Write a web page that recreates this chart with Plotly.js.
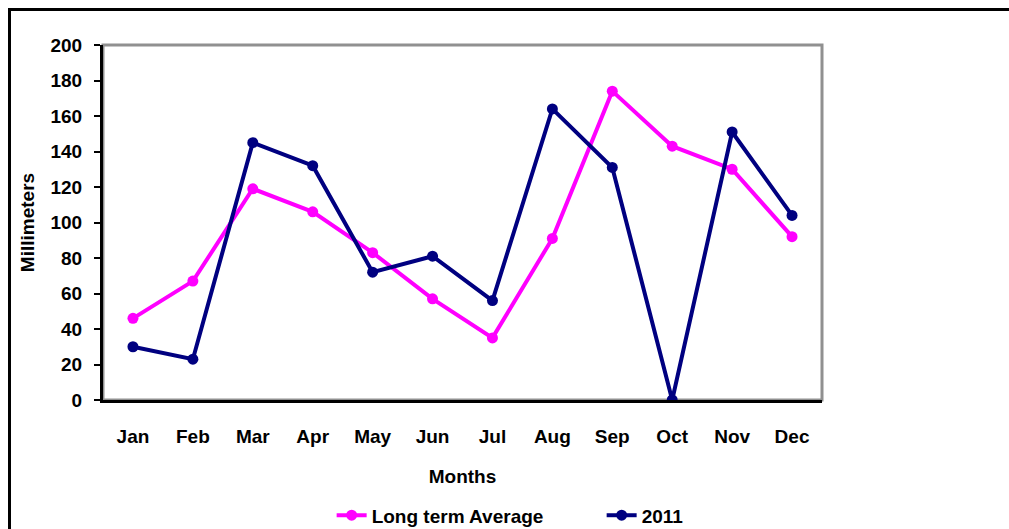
<!DOCTYPE html>
<html>
<head>
<meta charset="utf-8">
<script src="https://cdn.plot.ly/plotly-3.0.1.min.js"></script>
<style>
  html, body { margin: 0; padding: 0; background: #fff; }
  #wrap { position: relative; width: 1009px; height: 529px; overflow: hidden; }
  #frame { position: absolute; left: 8px; top: 8px; width: 1100px; height: 600px;
           border-top: 3px solid #000; border-left: 3px solid #000; pointer-events: none; z-index: 2; }
  #plot { position: absolute; left: 0; top: 0; width: 1009px; height: 529px; }
</style>
</head>
<body>
<div id="wrap">
  <div id="plot"></div>
  <div id="frame"></div>
</div>
<script>
const months = ['Jan', 'Feb', 'Mar', 'Apr', 'May', 'Jun', 'Jul', 'Aug', 'Sep', 'Oct', 'Nov', 'Dec'];
const longTermAverage = [46, 67, 119, 106, 83, 57, 35, 91, 174, 143, 130, 92];
const rain2011 = [30, 23, 145, 132, 72, 81, 56, 164, 131, 0, 151, 104];
const yTicks = [0, 20, 40, 60, 80, 100, 120, 140, 160, 180, 200];

const font = { family: 'Liberation Sans, Arial, sans-serif', size: 19, color: '#000', weight: 'bold' };

const traces = [
    {
        x: months, y: longTermAverage, name: 'Long term Average',
        mode: 'lines+markers', type: 'scatter',
        line: { color: '#ff00ff', width: 4 },
        marker: { color: '#ff00ff', size: 11 }
    },
    {
        x: months, y: rain2011, name: '2011',
        mode: 'lines+markers', type: 'scatter',
        line: { color: '#000080', width: 4 },
        marker: { color: '#000080', size: 11 }
    }
];

const layout = {
    width: 1009, height: 529,
    margin: { l: 103, r: 187, t: 45, b: 129, autoexpand: false },
    paper_bgcolor: 'rgba(0,0,0,0)', plot_bgcolor: '#fff',
    font: font,
    showlegend: true,
    legend: {
        orientation: 'h', x: 0.318, xanchor: 'left', y: -0.325, yanchor: 'middle',
        font: font, entrywidthmode: 'pixels', entrywidth: 225, tracegroupgap: 0
    },
    xaxis: {
        type: 'category', range: [-0.5, 11.5], showline: true, linecolor: '#000', linewidth: 3,
        showgrid: false, zeroline: false, ticks: '', ticklabelstandoff: 17,
        tickfont: font, fixedrange: true, automargin: false,
        title: { text: 'Months', font: font, standoff: 24 }
    },
    yaxis: {
        range: [0, 200], tickvals: yTicks, showline: true, linecolor: '#000', linewidth: 3,
        showgrid: false, zeroline: false, ticks: 'outside', ticklen: 6, tickwidth: 2, tickcolor: '#000',
        ticklabelstandoff: 8, tickfont: font, fixedrange: true, automargin: false,
        title: { text: 'Millimeters', font: font, standoff: 11 }
    },
    shapes: [{
        type: 'rect', xref: 'paper', yref: 'paper', x0: 0, x1: 1, y0: 0, y1: 1,
        line: { color: '#909090', width: 3 }, layer: 'below'
    }]
};

Plotly.newPlot('plot', traces, layout, { displayModeBar: false, staticPlot: true });
</script>
</body>
</html>
